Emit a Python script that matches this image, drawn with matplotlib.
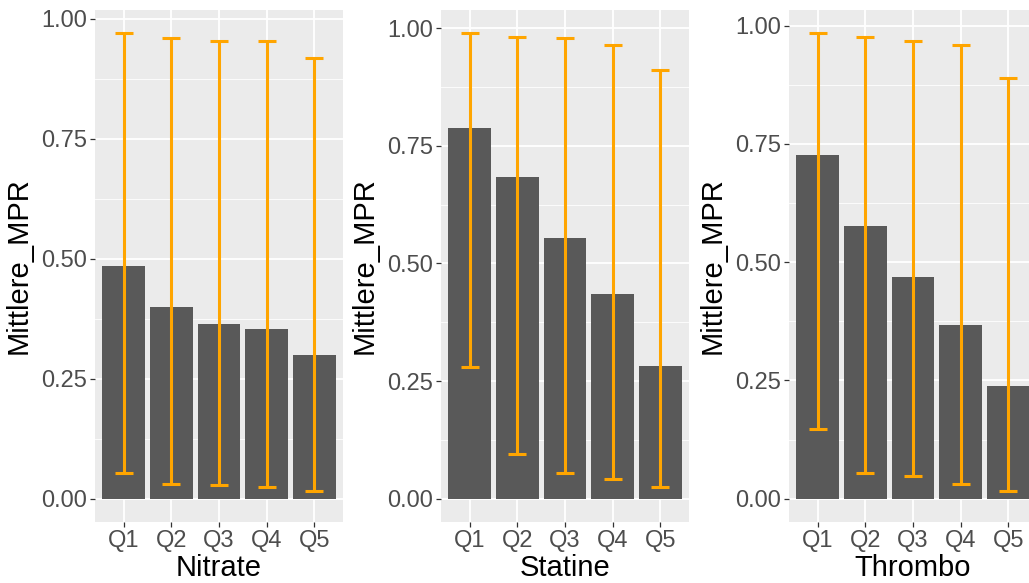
import matplotlib
matplotlib.use("Agg")
import matplotlib.pyplot as plt
import numpy as np

plt.rcParams['font.family'] = ['Liberation Sans', 'DejaVu Sans']

quintile = ['Q1', 'Q2', 'Q3', 'Q4', 'Q5']

# mean MPR per quintile and the error bar limits
nitrate_mpr = [0.485, 0.399, 0.364, 0.353, 0.299]
nitrate_low = [0.054, 0.031, 0.028, 0.025, 0.016]
nitrate_high = [0.970, 0.960, 0.954, 0.953, 0.918]

statine_mpr = [0.788, 0.684, 0.554, 0.435, 0.283]
statine_low = [0.279, 0.094, 0.055, 0.041, 0.024]
statine_high = [0.989, 0.982, 0.978, 0.965, 0.910]

thrombo_mpr = [0.726, 0.577, 0.468, 0.368, 0.239]
thrombo_low = [0.147, 0.055, 0.047, 0.032, 0.016]
thrombo_high = [0.984, 0.977, 0.967, 0.960, 0.890]

panels = [
    ('Nitrate', nitrate_mpr, nitrate_low, nitrate_high),
    ('Statine', statine_mpr, statine_low, statine_high),
    ('Thrombo', thrombo_mpr, thrombo_low, thrombo_high),
]

W, H = 1029, 583
fig = plt.figure(figsize=(W / 100, H / 100), dpi=100)

lefts = [95, 441, 789]
for left, (name, mpr, low, high) in zip(lefts, panels):
    ax = fig.add_axes([left / W, 61 / H, 248 / W, 512 / H])
    ax.set_facecolor('#EBEBEB')
    x = np.arange(1, len(quintile) + 1)
    mpr = np.array(mpr)
    low = np.array(low)
    high = np.array(high)

    ax.bar(x, mpr, width=0.9, color='#595959', zorder=2)
    ax.errorbar(x, mpr, yerr=[mpr - low, high - mpr], fmt='none',
                ecolor='#FFA500', elinewidth=2.2, capsize=6.8,
                capthick=2.2, zorder=3)

    # ggplot-like 5% expansion
    top = high.max()
    ax.set_ylim(-0.05 * top, top * 1.05)
    ax.set_xlim(0.4, len(quintile) + 0.6)

    ax.set_yticks([0, 0.25, 0.5, 0.75, 1.0])
    ax.set_yticklabels(['0.00', '0.25', '0.50', '0.75', '1.00'])
    ax.set_yticks([0.125, 0.375, 0.625, 0.875], minor=True)
    ax.set_xticks(x)
    ax.set_xticklabels(quintile)

    ax.grid(which='major', color='white', linewidth=1.3, zorder=0)
    ax.grid(which='minor', axis='y', color='white', linewidth=0.6, zorder=0)
    ax.set_axisbelow(True)
    for s in ax.spines.values():
        s.set_visible(False)

    ax.tick_params(axis='both', which='major', length=3.5, width=0.9,
                   color='#333333', labelsize=17, labelcolor='#4D4D4D', pad=2.5)
    ax.tick_params(axis='y', which='minor', length=0)

    ax.set_ylabel('Mittlere_MPR', fontsize=21, color='black')
    ax.yaxis.set_label_coords(-0.25, 0.5)
    ax.set_xlabel(name, fontsize=21, color='black')
    ax.xaxis.set_label_coords(0.5, -0.063)

fig.savefig('out.png', dpi=100)
